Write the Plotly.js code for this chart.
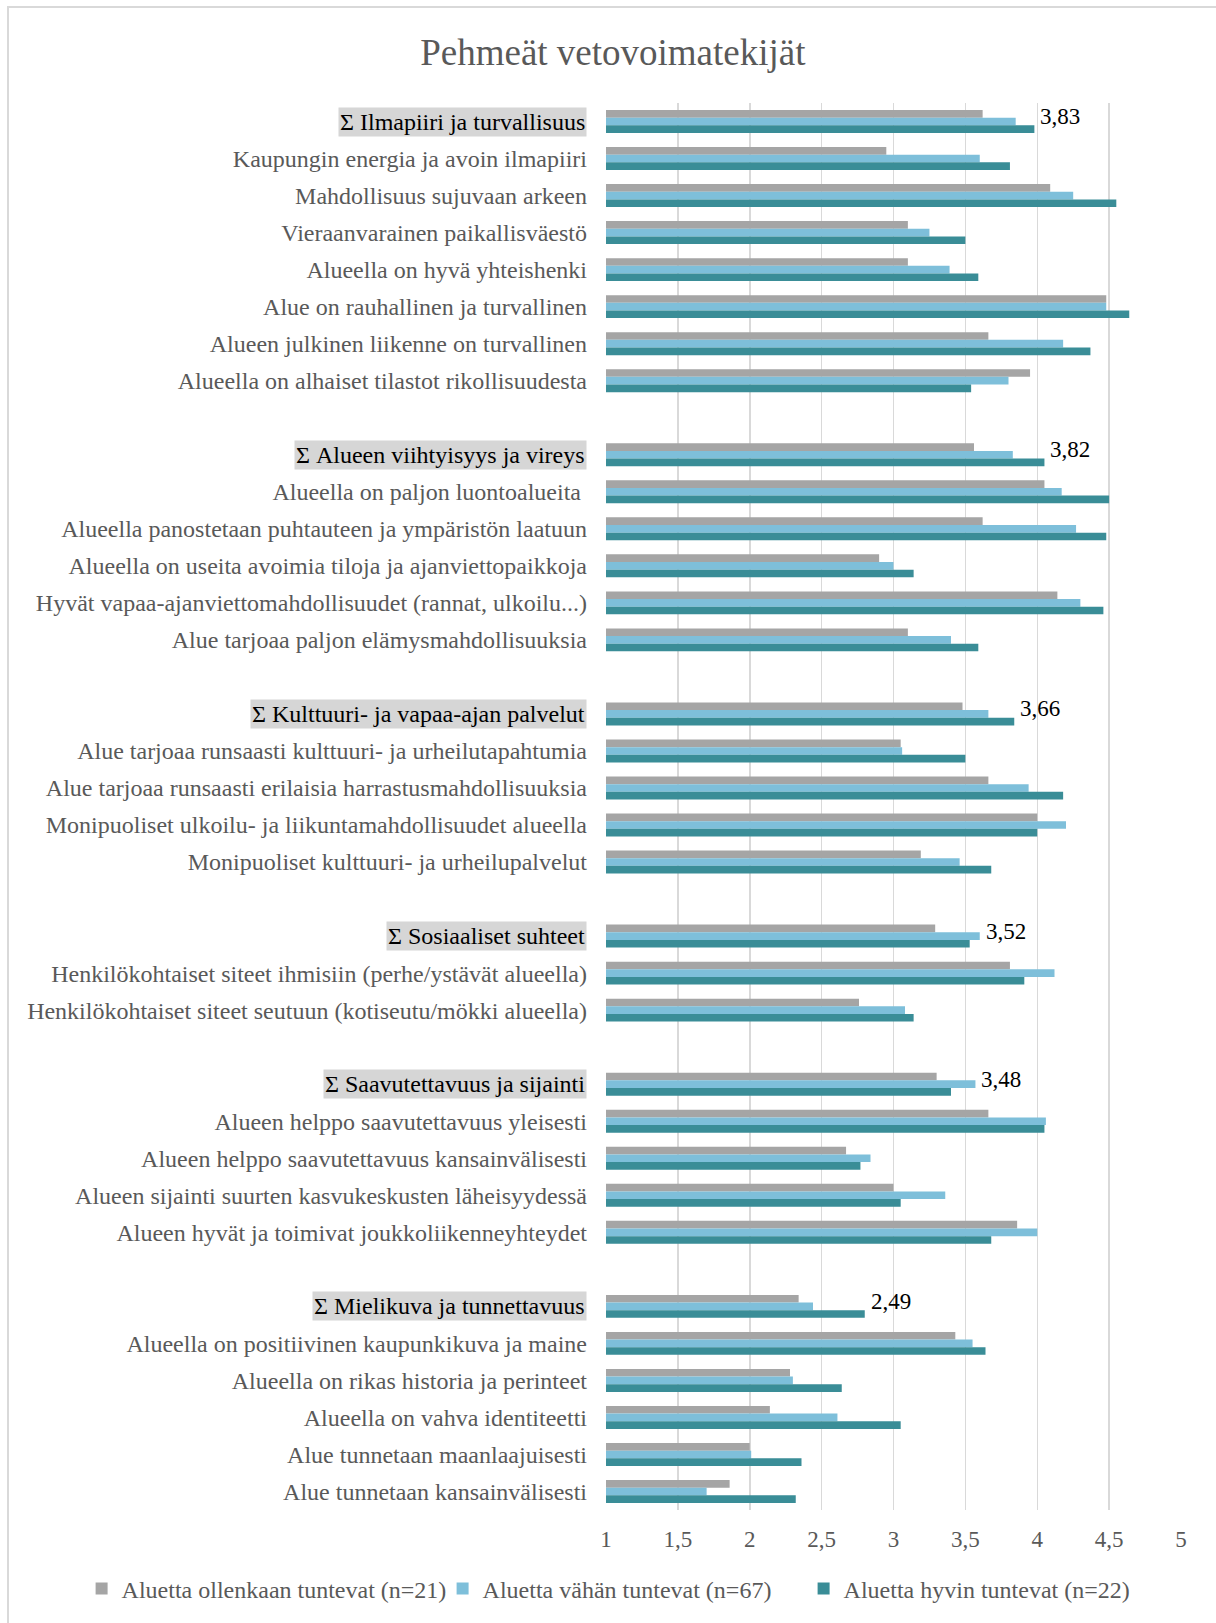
<!DOCTYPE html>
<html>
<head>
<meta charset="utf-8">
<script src="https://cdn.plot.ly/plotly-3.0.1.min.js"></script>
<style>
html,body{margin:0;padding:0;background:#fff;}
#chart{width:1216px;height:1623px;position:relative;}
#frame{position:absolute;left:7px;top:6px;width:1216px;height:1640px;border-top:2px solid #d9d9d9;border-left:2px solid #d9d9d9;pointer-events:none;}
</style>
</head>
<body>
<div id="chart"></div>
<div id="frame"></div>
<script>
const categories = [
  "Σ Ilmapiiri ja turvallisuus",
  "Kaupungin energia ja avoin ilmapiiri",
  "Mahdollisuus sujuvaan arkeen",
  "Vieraanvarainen paikallisväestö",
  "Alueella on hyvä yhteishenki",
  "Alue on rauhallinen ja turvallinen",
  "Alueen julkinen liikenne on turvallinen",
  "Alueella on alhaiset tilastot rikollisuudesta",
  " ",
  "Σ Alueen viihtyisyys ja vireys",
  "Alueella on paljon luontoalueita ",
  "Alueella panostetaan puhtauteen ja ympäristön laatuun",
  "Alueella on useita avoimia tiloja ja ajanviettopaikkoja",
  "Hyvät vapaa-ajanviettomahdollisuudet (rannat, ulkoilu...)",
  "Alue tarjoaa paljon elämysmahdollisuuksia",
  "  ",
  "Σ Kulttuuri- ja vapaa-ajan palvelut",
  "Alue tarjoaa runsaasti kulttuuri- ja urheilutapahtumia",
  "Alue tarjoaa runsaasti erilaisia harrastusmahdollisuuksia",
  "Monipuoliset ulkoilu- ja liikuntamahdollisuudet alueella",
  "Monipuoliset kulttuuri- ja urheilupalvelut",
  "   ",
  "Σ Sosiaaliset suhteet",
  "Henkilökohtaiset siteet ihmisiin (perhe/ystävät alueella)",
  "Henkilökohtaiset siteet seutuun (kotiseutu/mökki alueella)",
  "    ",
  "Σ Saavutettavuus ja sijainti",
  "Alueen helppo saavutettavuus yleisesti",
  "Alueen helppo saavutettavuus kansainvälisesti",
  "Alueen sijainti suurten kasvukeskusten läheisyydessä",
  "Alueen hyvät ja toimivat joukkoliikenneyhteydet",
  "     ",
  "Σ Mielikuva ja tunnettavuus",
  "Alueella on positiivinen kaupunkikuva ja maine",
  "Alueella on rikas historia ja perinteet",
  "Alueella on vahva identiteetti",
  "Alue tunnetaan maanlaajuisesti",
  "Alue tunnetaan kansainvälisesti"
];

const seriesNames = [
  "Aluetta ollenkaan tuntevat (n=21)",
  "Aluetta vähän tuntevat (n=67)",
  "Aluetta hyvin tuntevat (n=22)"
];

const notAtAll = [3.62,2.95,4.09,3.10,3.10,4.48,3.66,3.95,null,
  3.56,4.05,3.62,2.90,4.14,3.10,null,
  3.48,3.05,3.66,4.00,3.19,null,
  3.29,3.81,2.76,null,
  3.30,3.66,2.67,3.00,3.86,null,
  2.34,3.43,2.28,2.14,2.00,1.86];

const aLittle = [3.85,3.60,4.25,3.25,3.39,4.48,4.18,3.80,null,
  3.83,4.17,4.27,3.00,4.30,3.40,null,
  3.66,3.06,3.94,4.20,3.46,null,
  3.60,4.12,3.08,null,
  3.57,4.06,2.84,3.36,4.00,null,
  2.44,3.55,2.30,2.61,2.01,1.70];

const well = [3.98,3.81,4.55,3.50,3.59,4.64,4.37,3.54,null,
  4.05,4.50,4.48,3.14,4.46,3.59,null,
  3.84,3.50,4.18,4.00,3.68,null,
  3.53,3.91,3.14,null,
  3.40,4.05,2.77,3.05,3.68,null,
  2.80,3.64,2.64,3.05,2.36,2.32];

const sumRows = [
  "Σ Ilmapiiri ja turvallisuus",
  "Σ Alueen viihtyisyys ja vireys",
  "Σ Kulttuuri- ja vapaa-ajan palvelut",
  "Σ Sosiaaliset suhteet",
  "Σ Saavutettavuus ja sijainti",
  "Σ Mielikuva ja tunnettavuus"
];
const sumLabels = ["3,83","3,82","3,66","3,52","3,48","2,49"];

const xTicks = [1,1.5,2,2.5,3,3.5,4,4.5,5];

const colors = ["#A5A5A5","#7EBFDA","#3A8D97"];
const serif = "Liberation Serif, Times New Roman, serif";
const textGrey = "#595959";

const seriesVals = [notAtAll, aLittle, well];
const traces = seriesVals.map((vals, i) => ({
  type: "bar",
  orientation: "h",
  name: seriesNames[i],
  y: categories,
  x: vals,
  marker: {color: colors[i], line: {width: 0}},
  hoverinfo: "x+name"
}));

const annotations = [];
sumRows.forEach((row, k) => {
  annotations.push({
    xref: "paper", yref: "y",
    x: 0, y: row,
    xanchor: "right", yanchor: "middle",
    xshift: -19,
    text: row,
    showarrow: false,
    bgcolor: "#D6D6D6",
    borderpad: 1,
    font: {family: serif, size: 24, color: "#000000"}
  });
  const idx = categories.indexOf(row);
  const maxVal = Math.max(notAtAll[idx], aLittle[idx], well[idx]);
  annotations.push({
    xref: "x", yref: "y",
    x: maxVal, y: row,
    xanchor: "left", yanchor: "middle",
    xshift: 4, yshift: 5,
    text: sumLabels[k],
    showarrow: false,
    font: {family: serif, size: 23, color: "#000000"}
  });
});

const tickText = categories.map(c => sumRows.includes(c) ? "" : c);

const layout = {
  width: 1216,
  height: 1623,
  margin: {l: 606, r: 35, t: 103, b: 107},
  paper_bgcolor: "#ffffff",
  plot_bgcolor: "#ffffff",
  separators: ", ",
  title: {
    text: "Pehmeät vetovoimatekijät",
    font: {family: serif, size: 37, color: textGrey},
    xref: "container", x: 0.504,
    yref: "container", y: 0.968, yanchor: "middle"
  },
  barmode: "group",
  bargap: 0.38,
  bargroupgap: 0,
  showlegend: true,
  xaxis: {
    range: [1, 5],
    tickvals: xTicks,
    ticktext: xTicks.map(v => String(v).replace(".", ",")),
    showgrid: true,
    gridcolor: "#D9D9D9",
    gridwidth: 1.5,
    zeroline: false,
    showline: false,
    ticks: "",
    tickfont: {family: serif, size: 23, color: textGrey},
    ticklabelstandoff: 13,
    fixedrange: true
  },
  yaxis: {
    type: "category",
    autorange: "reversed",
    tickvals: categories,
    ticktext: tickText,
    showgrid: false,
    zeroline: false,
    showline: false,
    ticks: "",
    ticklabelstandoff: 18,
    tickfont: {family: serif, size: 24, color: textGrey},
    fixedrange: true
  },
  legend: {
    orientation: "h",
    xref: "paper", x: -0.912, xanchor: "left",
    yref: "paper", y: -0.056, yanchor: "middle",
    font: {family: serif, size: 24, color: textGrey},
    itemwidth: 30,
    entrywidth: 316,
    traceorder: "normal"
  },
  annotations: annotations
};

Plotly.newPlot("chart", traces, layout, {displayModeBar: false, staticPlot: true});
</script>
</body>
</html>
